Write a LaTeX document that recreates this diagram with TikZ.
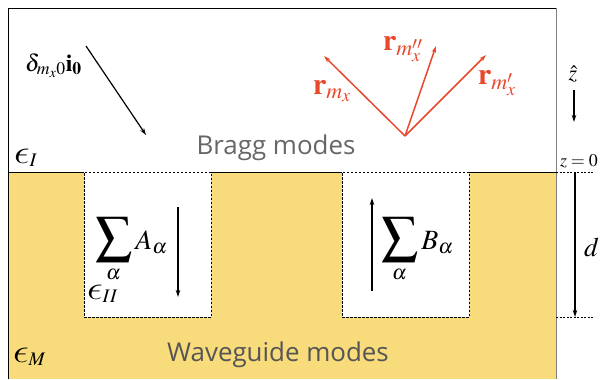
\documentclass[tikz,border=0pt]{standalone}
\usepackage{graphicx}
\usepackage{mathptmx}
\usepackage[no-math]{fontspec}
\newfontfamily\labelfont{Open Sans}
\DeclareSymbolFont{cmletters}{OML}{lmm}{m}{it}
\DeclareMathSymbol{\lepsilon}{\mathord}{cmletters}{"0F}
\newcommand{\bigeps}{\mbox{\scalebox{1.6}[1.35]{$\lepsilon$}}}
\newcommand{\bigsum}{\mathop{\mbox{\scalebox{1.3}{$\displaystyle\sum$}}}\limits}
\usetikzlibrary{arrows.meta}
\definecolor{wgyellow}{RGB}{248,219,122}
\definecolor{redarrow}{RGB}{232,72,44}
\definecolor{txtgray}{RGB}{102,102,102}
\definecolor{txtgraydark}{RGB}{85,85,85}
\begin{document}
\begin{tikzpicture}[x=1bp,y=-1bp,
  every node/.style={inner sep=0pt,outer sep=0pt},
  arr/.style={line width=1.2bp,-{Stealth[length=7bp,width=4.5bp]}},
  redarr/.style={arr,redarrow,line width=1.5bp},
  wgbox/.style={draw,fill=white,line width=0.6bp,dash pattern=on 2.5bp off 1.5bp,minimum width=127bp,minimum height=145bp,anchor=north west},
  guide/.style={draw,line width=0.6bp,dash pattern=on 2bp off 1.5bp},
  region/.style={font=\labelfont\fontsize{26}{30}\selectfont},
  mathlbl/.style={font=\fontsize{24}{28}\selectfont},
  epslbl/.style={font=\fontsize{26}{30}\selectfont,anchor=base west},
  sumlbl/.style={font=\fontsize{28}{32}\selectfont,anchor=west}]
\useasboundingbox (0,0) rectangle (604,379);
% regions
\fill[wgyellow] (8,172) rectangle (556,379);
\draw[line width=1bp] (8,379) -- (8,8) -- (556,8);
\draw[gray,line width=1bp] (556,8) -- (556,379);
\draw[line width=1bp] (8,172) -- (556,172);
% guide coordinates
\coordinate (zl) at (556,172);
\coordinate (zr) at (594,172);
\coordinate (dl) at (556,317);
\coordinate (dr) at (594,317);
\draw[guide] (zl) -- (zr);
\draw[guide] (dl) -- (dr);
% boxes
\node[wgbox] (boxA) at (84,172) {};
\node[wgbox] (boxB) at (342,172) {};
% texts
\node[region,text=txtgray,anchor=base] (bragg) at (276,154) {Bragg modes};
\node[region,text=txtgraydark,anchor=base] (wg) at (278,361) {Waveguide modes};
\node[epslbl] (epsI) at (14,163) {$\bigeps_{I}$};
\node[epslbl] (epsM) at (13,362) {$\bigeps_{M}$};
\node[epslbl] (epsII) at (87,299) {$\bigeps_{II}$};
\node[sumlbl] (sumA) at (95,250) {$\bigsum_{\alpha} A_{\alpha}$};
\node[sumlbl] (sumB) at (381,250) {$\bigsum_{\alpha} B_{\alpha}$};
\node[mathlbl,anchor=base west] (inc) at (25,71) {$\delta_{m_x0}\mathbf{i}_{\mathbf{0}}$};
% incident arrow
\coordinate (i1) at (86,46);
\coordinate (i2) at (146,135);
\draw[arr] (i1) -- (i2);
% red arrows
\coordinate (o) at (405,136);
\coordinate (r1) at (324,56);
\coordinate (r2) at (436,46);
\coordinate (r3) at (486,55);
\draw[redarr] (o) -- (r1);
\draw[redarr] (o) -- (r2);
\draw[redarr] (o) -- (r3);
\node[font=\fontsize{30}{34}\selectfont,text=redarrow,anchor=base west] (lr1) at (313,94) {$\mathbf{r}_{m_x}$};
\node[font=\fontsize{30}{34}\selectfont,text=redarrow,anchor=base west] (lr2) at (383,50) {$\mathbf{r}_{m_x''}$};
\node[font=\fontsize{30}{34}\selectfont,text=redarrow,anchor=base west] (lr3) at (478,84) {$\mathbf{r}_{m_x'}$};
% box arrows
\coordinate (a1) at (178,207);
\coordinate (a2) at (178,297);
\draw[arr] (a1) -- (a2);
\coordinate (b1) at (372,291);
\coordinate (b2) at (372,198);
\draw[arr] (b1) -- (b2);
% z hat
\node[font=\fontsize{22}{26}\selectfont,anchor=base] (zhat) at (573,80) {$\hat{z}$};
\coordinate (z1) at (574,90);
\coordinate (z2) at (574,122);
\draw[arr] (z1) -- (z2);
\node[font=\fontsize{18}{22}\selectfont,anchor=base west] (z0) at (560,166) {$z=0$};
% d
\coordinate (d1) at (575,172);
\coordinate (d2) at (575,317);
\draw[arr] (d1) -- (d2);
\node[font=\fontsize{27}{30}\selectfont,anchor=base west] (dlab) at (584,256) {$d$};
\end{tikzpicture}
\end{document}
